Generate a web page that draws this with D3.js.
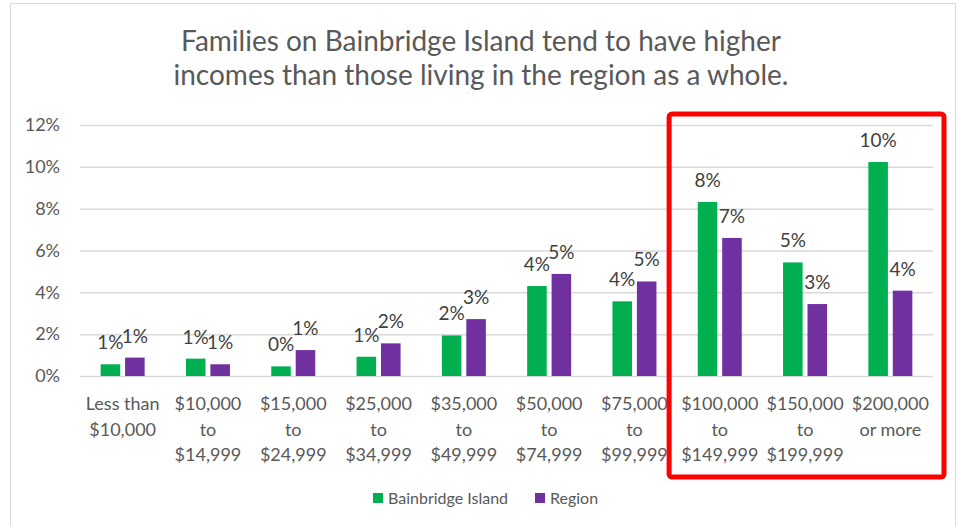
<!DOCTYPE html>
<html>
<head>
<meta charset="utf-8">
<script src="https://cdn.jsdelivr.net/npm/d3@7"></script>
<style>
  body { margin: 0; background: #fff; }
  text { font-family: Lato, "Open Sans", sans-serif; }
</style>
</head>
<body>
<div id="chart1"></div>
<script>
// data (percent)
var categories = [
  ["Less than", "$10,000"],
  ["$10,000", "to", "$14,999"],
  ["$15,000", "to", "$24,999"],
  ["$25,000", "to", "$34,999"],
  ["$35,000", "to", "$49,999"],
  ["$50,000", "to", "$74,999"],
  ["$75,000", "to", "$99,999"],
  ["$100,000", "to", "$149,999"],
  ["$150,000", "to", "$199,999"],
  ["$200,000", "or more"]
];
var seriesNames = ["Bainbridge Island", "Region"];
var seriesColors = ["#00b050", "#7030a0"];
var bainbridge = [0.56, 0.83, 0.46, 0.92, 1.94, 4.30, 3.57, 8.32, 5.43, 10.23];
var region = [0.88, 0.56, 1.24, 1.56, 2.72, 4.88, 4.52, 6.60, 3.44, 4.08];
var yTicks = [0, 2, 4, 6, 8, 10, 12];
var titleLines = ["Families on Bainbridge Island tend to have higher",
                  "incomes than those living in the region as a whole."];
var highlighted = [7, 9]; // first and last category in the red box

var w = 959, h = 526;

var svg = d3.select("#chart1")
    .append("svg")
    .attr("width", w)
    .attr("height", h);

// chart frame
svg.append("rect")
    .attr("x", 10.5).attr("y", 3.5)
    .attr("width", 945).attr("height", 530)
    .attr("fill", "#fff")
    .attr("stroke", "#d9d9d9");

var xScale = d3.scaleBand()
    .domain(d3.range(categories.length))
    .range([80, 933]);

var bw = xScale.bandwidth();
var xSub = d3.scaleBand()
    .domain(seriesNames)
    .range([bw / 2 - 22, bw / 2 + 22])
    .paddingInner(0.2);

var yScale = d3.scaleLinear()
    .domain([0, 12])
    .range([376, 125]);

// title
svg.append("g").selectAll("text")
    .data(titleLines)
    .enter()
    .append("text")
    .attr("x", 481)
    .attr("y", function(d, i) { return 51 + i * 34; })
    .attr("text-anchor", "middle")
    .attr("fill", "#595959")
    .style("font-size", "28px")
    .text(function(d) { return d; });

// gridlines + y axis
var yAxis = d3.axisLeft(yScale)
    .tickValues(yTicks)
    .tickSize(-(933 - 80))
    .tickPadding(20)
    .tickFormat(function(d) { return d + "%"; });

var gy = svg.append("g")
    .attr("transform", "translate(80,0)")
    .call(yAxis);
gy.select(".domain").remove();
gy.selectAll(".tick line").attr("stroke", "#d9d9d9").attr("stroke-width", 1.5);
gy.selectAll(".tick text")
    .attr("fill", "#595959")
    .style("font-size", "18px");

// bars
var series = [bainbridge, region];
var groups = svg.append("g").selectAll("g")
    .data(series)
    .enter()
    .append("g")
    .attr("fill", function(d, i) { return seriesColors[i]; });

groups.selectAll("rect")
    .data(function(d, i) { return d.map(function(v, j) { return {v: v, j: j, s: seriesNames[i]}; }); })
    .enter()
    .append("rect")
    .attr("x", function(d) { return xScale(d.j) + xSub(d.s); })
    .attr("y", function(d) { return yScale(d.v); })
    .attr("width", xSub.bandwidth())
    .attr("height", function(d) { return yScale(0) - yScale(d.v); });

// data labels
groups.selectAll("text")
    .data(function(d, i) { return d.map(function(v, j) { return {v: v, j: j, s: seriesNames[i]}; }); })
    .enter()
    .append("text")
    .attr("x", function(d) { return xScale(d.j) + xSub(d.s) + xSub.bandwidth() / 2; })
    .attr("y", function(d) { return yScale(d.v) - 15; })
    .attr("text-anchor", "middle")
    .attr("fill", "#404040")
    .style("font-size", "19px")
    .text(function(d) { return Math.round(d.v) + "%"; });

// category labels
var xl = svg.append("g").selectAll("text")
    .data(categories)
    .enter()
    .append("text")
    .attr("x", function(d, i) { return xScale(i) + bw / 2; })
    .attr("y", 410)
    .attr("text-anchor", "middle")
    .attr("fill", "#595959")
    .style("font-size", "18px");

xl.selectAll("tspan")
    .data(function(d) { return d; })
    .enter()
    .append("tspan")
    .attr("x", function() { return d3.select(this.parentNode).attr("x"); })
    .attr("dy", function(d, i) { return i === 0 ? 0 : 25.5; })
    .text(function(d) { return d; });

// legend
var legendX = [373, 535];
var lg = svg.append("g").selectAll("g")
    .data(seriesNames)
    .enter()
    .append("g")
    .attr("transform", function(d, i) { return "translate(" + legendX[i] + ",493)"; });
lg.append("rect")
    .attr("width", 10).attr("height", 10)
    .attr("fill", function(d, i) { return seriesColors[i]; });
lg.append("text")
    .attr("x", 15).attr("y", 10.5)
    .attr("fill", "#595959")
    .style("font-size", "16px")
    .text(function(d) { return d; });

// red highlight box
var boxLeft = xScale(highlighted[0]) - 8;
var boxRight = xScale(highlighted[1]) + bw + 11;
svg.append("rect")
    .attr("x", boxLeft)
    .attr("y", 114)
    .attr("width", boxRight - boxLeft)
    .attr("height", 363)
    .attr("rx", 3)
    .attr("fill", "none")
    .attr("stroke", "#ff0000")
    .attr("stroke-width", 5);
</script>
</body>
</html>
